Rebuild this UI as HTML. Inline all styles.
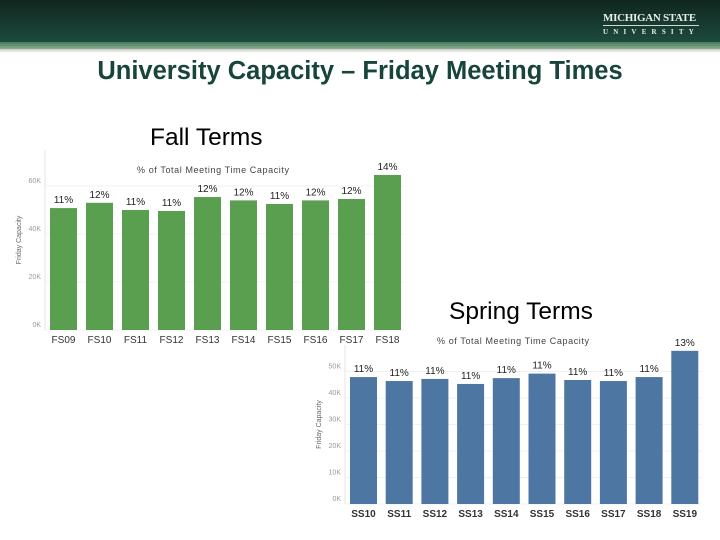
<!DOCTYPE html>
<html><head><meta charset="utf-8"><style>
body{margin:0;width:720px;height:540px;overflow:hidden;background:#fff;font-family:"Liberation Sans",sans-serif;position:relative}
.hdr{position:absolute;left:0;top:0;width:720px;height:42px;background:linear-gradient(#10261f,#1d4a3d)}
.stripe{position:absolute;left:0;top:42px;width:720px;height:7px;background:linear-gradient(#3f7a5a,#8fae8e)}
.shadow{position:absolute;left:0;top:49px;width:720px;height:4px;background:linear-gradient(#c8c8c8,#fff)}
.logo{position:absolute;left:603px;top:12px;color:#e8eee9;font-family:"Liberation Serif",serif;font-weight:bold}
.t{position:absolute;white-space:nowrap}
</style></head><body>
<div class="hdr"></div>
<div class="stripe"></div>
<div class="shadow"></div>
<div class="logo"><div style="font-size:11px;letter-spacing:-0.3px;border-bottom:1px solid #cfd8d2;padding-bottom:1px">MICHIGAN STATE</div><div style="font-size:7px;letter-spacing:5.2px;margin-top:2px">UNIVERSITY</div></div>
<div class="t" style="left:0;width:720px;text-align:center;top:57px;font-size:25.5px;font-weight:bold;color:#18453b">University Capacity – Friday Meeting Times</div>
<div class="t" style="left:150px;top:124px;font-size:24.5px;color:#000">Fall Terms</div>
<div class="t" style="left:449px;top:298px;font-size:24.5px;color:#000">Spring Terms</div>
<svg id="c" width="720" height="540" style="position:absolute;left:0;top:0"></svg>
<script>
const fallCats=["FS09","FS10","FS11","FS12","FS13","FS14","FS15","FS16","FS17","FS18"];
const fallVals=[50.8,53,50,49.6,55.4,54,52.5,54,54.6,64.6];
const fallPct=["11%","12%","11%","11%","12%","12%","11%","12%","12%","14%"];
const fallTicks=[0,20,40,60];
const springCats=["SS10","SS11","SS12","SS13","SS14","SS15","SS16","SS17","SS18","SS19"];
const springVals=[47.9,46.4,47.2,45.3,47.5,49.2,46.8,46.4,47.9,57.8];
const springPct=["11%","11%","11%","11%","11%","11%","11%","11%","11%","13%"];
const springTicks=[0,10,20,30,40,50];
const svg=document.getElementById('c');
const NS='http://www.w3.org/2000/svg';
function mk(tag,a,txt){const e=document.createElementNS(NS,tag);for(const k in a)e.setAttribute(k,a[k]);if(txt!==undefined)e.textContent=txt;svg.appendChild(e);return e;}
function chart(o){
  const y=v=>o.y0-v*o.pxPer;
  const x=i=>o.x0+i*o.pitch;
  let ax=mk('line',{x1:o.axisX,x2:o.axisX,y1:o.axTop,y2:o.y0,stroke:'#e4e4e4'});
  
  
  o.ticks.forEach(t=>{
    let g=mk('line',{x1:o.axisX,x2:o.xEnd,y1:y(t),y2:y(t),stroke:'#f0f0f0'});
    
    
    let l=mk('text',{x:o.axisX-4,y:y(t)-3,'font-size':7,fill:'#999','text-anchor':'end'},t+'K');
    
    
  });
  let yt=mk('text',{x:0,y:0,'font-size':7,fill:'#666','text-anchor':'middle',transform:`translate(${o.axisX-24},${(o.axTop+o.y0)/2}) rotate(-90)`},'Friday Capacity');
  
  
  let st=mk('text',{x:o.subX,y:o.subY,'font-size':9,fill:'#444','letter-spacing':'0.6'},'% of Total Meeting Time Capacity');
  
  
  o.vals.forEach((v,i)=>{
    let b=mk('rect',{x:x(i),y:y(v),width:o.bw,height:o.y0-y(v),fill:o.color});
    
    
    let p=mk('text',{x:x(i)+o.bw/2,y:y(v)-5,'font-size':10,fill:'#222','text-anchor':'middle'},o.pct[i]);
    
    
    let c=mk('text',{x:x(i)+o.bw/2,y:o.y0+13,'font-size':10,fill:'#333','text-anchor':'middle','font-weight':o.bold?'bold':'normal'},o.cats[i]);
    
    
  });
}
chart({id:'fall',cats:fallCats,vals:fallVals,pct:fallPct,ticks:fallTicks,x0:50,pitch:36,bw:27,y0:330,pxPer:2.4,axisX:45,axTop:150,xEnd:404,color:'#5a9e50',subX:137,subY:173,bold:false});
chart({id:'spring',cats:springCats,vals:springVals,pct:springPct,ticks:springTicks,x0:350,pitch:35.7,bw:27,y0:504,pxPer:2.65,axisX:345,axTop:345,xEnd:702,color:'#4e76a3',subX:437,subY:344,bold:true});
</script>
</body></html>
